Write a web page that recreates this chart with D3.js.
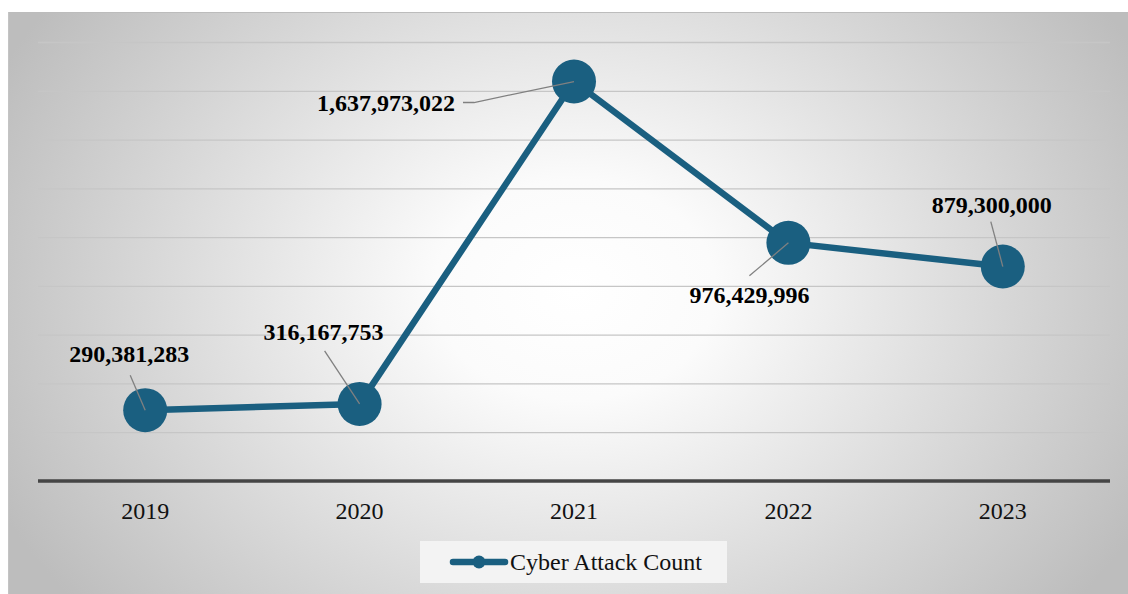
<!DOCTYPE html>
<html>
<head>
<meta charset="utf-8">
<script src="https://cdn.jsdelivr.net/npm/d3@7"></script>
<style>
  html, body { margin: 0; padding: 0; background: #ffffff; }
  svg { display: block; }
</style>
</head>
<body>
<svg id="chart" width="1128" height="594"></svg>
<script>
// Yearly cyber attack counts
const years = ["2019", "2020", "2021", "2022", "2023"];
const attackCounts = [290381283, 316167753, 1637973022, 976429996, 879300000];
const seriesName = "Cyber Attack Count";
const yTicks = [0, 200e6, 400e6, 600e6, 800e6, 1000e6, 1200e6, 1400e6, 1600e6, 1800e6];

// Label placement relative to each point: offset of label anchor and leader start
const labelPlacement = [
  { dx: -16, dy: -48, anchor: "middle", lx: -15, ly: -35 },
  { dx: -36, dy: -64, anchor: "middle", lx: -35, ly: -53 },
  { dx: -119, dy: 29, anchor: "end", lx: -111, ly: 21, elbow: -100 },
  { dx: -39, dy: 60, anchor: "middle", lx: -39, ly: 33 },
  { dx: -11, dy: -54, anchor: "middle", lx: -12, ly: -45 }
];

const svg = d3.select("#chart");
const W = 1128, H = 594;
const serif = "'Liberation Serif', 'Times New Roman', serif";

// Background panel with radial shading
const defs = svg.append("defs");
const grad = defs.append("radialGradient")
  .attr("id", "bg")
  .attr("gradientUnits", "userSpaceOnUse")
  .attr("cx", 575).attr("cy", 290).attr("r", 640)
  .attr("gradientTransform", "translate(575,290) scale(1,0.78) translate(-575,-290)");
grad.append("stop").attr("offset", "0%").attr("stop-color", "#ffffff");
grad.append("stop").attr("offset", "22%").attr("stop-color", "#fbfbfb");
grad.append("stop").attr("offset", "100%").attr("stop-color", "#bdbdbd");

svg.append("rect")
  .attr("x", 8).attr("y", 12).attr("width", W - 8).attr("height", H - 12)
  .attr("fill", "url(#bg)");
svg.append("line")
  .attr("x1", 8).attr("x2", W).attr("y1", 12.5).attr("y2", 12.5)
  .attr("stroke", "#bcbcbc").attr("stroke-width", 1);
svg.append("line")
  .attr("x1", 8.5).attr("x2", 8.5).attr("y1", 12).attr("y2", H)
  .attr("stroke", "#c4c4c4").attr("stroke-width", 1);

const plot = { left: 38, right: 1110, top: 42, bottom: 481 };

const x = d3.scaleBand()
  .domain(years)
  .range([plot.left, plot.right]);

const y = d3.scaleLinear()
  .domain([0, 1800e6])
  .range([plot.bottom, plot.top]);

// Horizontal gridlines
const grid = svg.append("g")
  .attr("transform", `translate(${plot.left},0)`)
  .call(d3.axisLeft(y).tickValues(yTicks.slice(1)).tickSize(-(plot.right - plot.left)).tickFormat(""));
grid.select(".domain").remove();
grid.selectAll(".tick line")
  .attr("stroke", "#c6c6c6").attr("stroke-width", 1.3);

// Category axis
const xAxis = svg.append("g")
  .attr("transform", `translate(0,${plot.bottom})`)
  .call(d3.axisBottom(x).tickSize(0).tickPadding(21));
xAxis.select(".domain").remove();
xAxis.append("line")
  .attr("x1", plot.left).attr("x2", plot.right)
  .attr("y1", 0).attr("y2", 0)
  .attr("stroke", "#454545").attr("stroke-width", 3.5);
xAxis.selectAll(".tick text")
  .attr("font-family", serif)
  .attr("font-size", 24)
  .attr("fill", "#111");

const color = "#1a5f80";
const cx = d => x(d.year) + x.bandwidth() / 2;
const data = years.map((yr, i) => ({ year: yr, value: attackCounts[i], place: labelPlacement[i] }));

// Series line
svg.append("path")
  .datum(data)
  .attr("fill", "none")
  .attr("stroke", color)
  .attr("stroke-width", 6.5)
  .attr("stroke-linejoin", "round")
  .attr("d", d3.line().x(cx).y(d => y(d.value)));

// Markers
svg.append("g").selectAll("circle")
  .data(data)
  .join("circle")
  .attr("cx", cx)
  .attr("cy", d => y(d.value))
  .attr("r", 22)
  .attr("fill", color);

// Leader lines
svg.append("g").selectAll("polyline")
  .data(data)
  .join("polyline")
  .attr("fill", "none")
  .attr("stroke", "#808080")
  .attr("stroke-width", 1.3)
  .attr("points", d => {
    const px = cx(d), py = y(d.value), p = d.place;
    const pts = [[px + p.lx, py + p.ly]];
    if (p.elbow !== undefined) pts.push([px + p.elbow, py + p.ly]);
    pts.push([px, py]);
    return pts.map(q => q.join(",")).join(" ");
  });

// Value labels
const fmt = d3.format(",");
svg.append("g").selectAll("text")
  .data(data)
  .join("text")
  .attr("x", d => cx(d) + d.place.dx)
  .attr("y", d => y(d.value) + d.place.dy)
  .attr("text-anchor", d => d.place.anchor)
  .attr("font-family", serif)
  .attr("font-weight", "bold")
  .attr("font-size", 24)
  .attr("fill", "#000")
  .text(d => fmt(d.value));

// Legend
const legend = svg.append("g");
legend.append("rect")
  .attr("x", 420).attr("y", 541).attr("width", 307).attr("height", 42)
  .attr("fill", "#f3f3f3");
legend.append("line")
  .attr("x1", 453).attr("x2", 505).attr("y1", 562).attr("y2", 562)
  .attr("stroke", color).attr("stroke-width", 6.5).attr("stroke-linecap", "round");
legend.append("circle")
  .attr("cx", 479).attr("cy", 562).attr("r", 6.5).attr("fill", color);
legend.append("text")
  .attr("x", 510).attr("y", 570)
  .attr("font-family", serif)
  .attr("font-size", 24)
  .attr("fill", "#111")
  .text(seriesName);
</script>
</body>
</html>
